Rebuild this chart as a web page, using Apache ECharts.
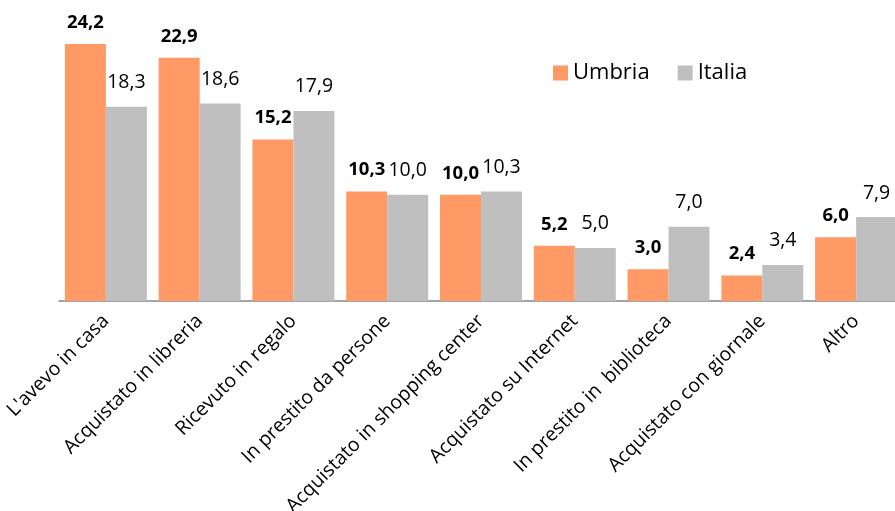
<!DOCTYPE html>
<html>
<head>
<meta charset="utf-8">
<script src="https://cdn.jsdelivr.net/npm/echarts@6/dist/echarts.min.js"></script>
<style>
html,body{margin:0;padding:0;background:#fff;}
#chart{width:895px;height:511px;}
</style>
</head>
<body>
<div id="chart"></div>
<script>
const categories = ["L'avevo in casa", "Acquistato in libreria", "Ricevuto in regalo", "In prestito da persone", "Acquistato in shopping center", "Acquistato su Internet", "In prestito in  biblioteca", "Acquistato con giornale", "Altro"];
const umbria = [24.2, 22.9, 15.2, 10.3, 10.0, 5.2, 3.0, 2.4, 6.0];
const italia = [18.3, 18.6, 17.9, 10.0, 10.3, 5.0, 7.0, 3.4, 7.9];
const seriesNames = ["Umbria", "Italia"];

const fmt = p => p.value.toFixed(1).replace('.', ',');
const chart = echarts.init(document.getElementById('chart'));
chart.setOption({
  animation: false,
  textStyle: { fontFamily: 'Open Sans' },
  legend: {
    data: seriesNames,
    left: 548, top: 57,
    itemWidth: 15, itemHeight: 15, itemGap: 28,
    icon: 'rect',
    textStyle: { fontSize: 22, color: '#000', fontFamily: 'Open Sans' }
  },
  grid: { left: 59, right: -8, top: 35.5, bottom: 210, containLabel: false, outerBoundsMode: 'none' },
  xAxis: {
    type: 'category',
    data: categories,
    axisLine: { lineStyle: { color: '#868686', width: 1.5 } },
    axisTick: { length: 6, lineStyle: { color: '#868686', width: 1.5 } },
    axisLabel: { rotate: 45, fontSize: 19.5, color: '#000', margin: 17, interval: 0 }
  },
  yAxis: {
    type: 'value', min: 0, max: 25,
    show: false, splitLine: { show: false }
  },
  series: [
    {
      name: seriesNames[0], type: 'bar', data: umbria,
      barGap: '0%', barCategoryGap: '12.6%',
      itemStyle: { color: '#FF9966' },
      label: { show: true, position: 'top', distance: 12, formatter: fmt, fontSize: 18.5, fontWeight: 'bold', color: '#000' }
    },
    {
      name: seriesNames[1], type: 'bar', data: italia,
      barGap: '0%', barCategoryGap: '12.6%',
      itemStyle: { color: '#BFBFBF' },
      label: { show: true, position: 'top', distance: 14, formatter: fmt, fontSize: 19.5, color: '#000' }
    }
  ]
});
</script>
</body>
</html>
